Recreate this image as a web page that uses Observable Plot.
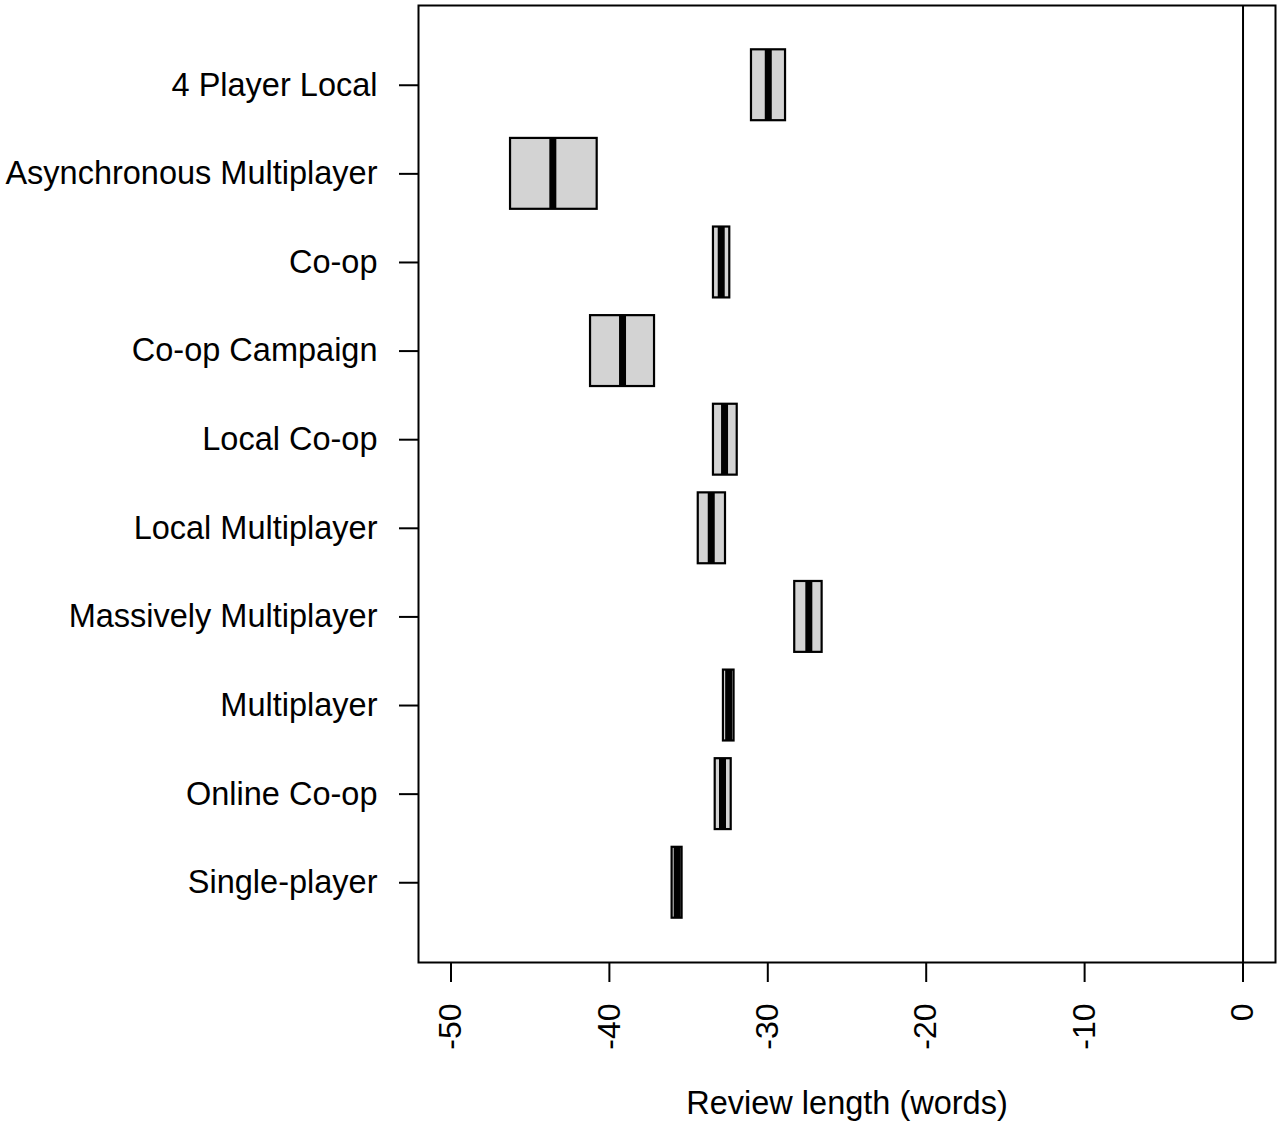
<!DOCTYPE html>
<html>
<head>
<meta charset="utf-8">
<script src="https://cdn.jsdelivr.net/npm/d3@7"></script>
<script src="https://cdn.jsdelivr.net/npm/@observablehq/plot@0.6"></script>
<style>
  html, body { margin: 0; padding: 0; background: #fff; }
  #chart svg { display: block; }
</style>
</head>
<body>
<div id="chart"></div>
<script>
const categories = [
  "4 Player Local",
  "Asynchronous Multiplayer",
  "Co-op",
  "Co-op Campaign",
  "Local Co-op",
  "Local Multiplayer",
  "Massively Multiplayer",
  "Multiplayer",
  "Online Co-op",
  "Single-player"
];
const lower  = [-31.03, -46.24, -33.43, -41.19, -33.43, -34.39, -28.30, -32.80, -33.32, -36.04];
const upper  = [-28.88, -40.77, -32.40, -37.15, -31.93, -32.67, -26.57, -32.13, -32.31, -35.41];
const median = [-29.97, -43.57, -32.94, -39.17, -32.73, -33.57, -27.41, -32.47, -32.86, -35.72];
const xTicks = [-50, -40, -30, -20, -10, 0];
const xLabel = "Review length (words)";

const rows = categories.map((c, i) => ({cat: c, lo: lower[i], hi: upper[i], med: median[i]}));

const chart = Plot.plot({
  width: 1280,
  height: 1125,
  marginLeft: 418,
  marginRight: 5,
  marginTop: 5,
  marginBottom: 163,
  style: {fontFamily: "Liberation Sans, Arial, sans-serif", fontSize: "32px", color: "#000", background: "#fff"},
  x: {domain: [-52.05, 2.05], ticks: xTicks, label: null},
  y: {domain: categories, paddingInner: 0.2, paddingOuter: 0.5, round: false, label: null},
  marks: [
    Plot.barX(rows, {y: "cat", x1: "lo", x2: "hi", fill: "#d3d3d3", stroke: "#000", strokeWidth: 2.2, insetTop: 0, insetBottom: 0}),
    Plot.tickX(rows, {y: "cat", x: "med", stroke: "#000", strokeWidth: 7}),
    Plot.ruleX([0], {stroke: "#000", strokeWidth: 2}),
    Plot.frame({stroke: "#000", strokeWidth: 2}),
    Plot.axisX({ticks: xTicks, tickSize: 20, tickPadding: 21, tickRotate: -90, tickFormat: d => String(d), stroke: "#000", strokeWidth: 2, strokeOpacity: 1, fontSize: 32, label: null}),
    Plot.axisY({tickSize: 19, tickPadding: 22, stroke: "#000", strokeWidth: 2, strokeOpacity: 1, fontSize: 32.5, label: null}),
    Plot.text([xLabel], {frameAnchor: "bottom", dy: 151, text: d => d, fontSize: 32.5, fill: "#000"})
  ]
});
document.getElementById("chart").appendChild(chart);
</script>
</body>
</html>
